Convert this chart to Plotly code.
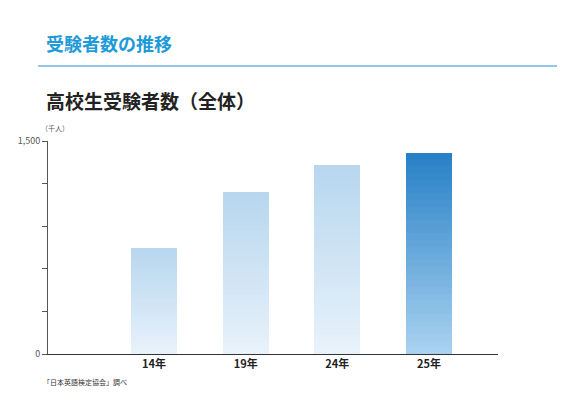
import plotly.graph_objects as go

# 高校生受験者数（千人）
years = ['14年', '19年', '24年', '25年']
examinees = [745, 1140, 1330, 1415]

# gradient colours (bottom, top) per bar
light_bottom, light_top = (232, 242, 251), (183, 214, 238)
dark_bottom, dark_top = (170, 210, 240), (38, 128, 198)
steps = 30

def mix(a, b, t):
    return 'rgb(%d,%d,%d)' % tuple(round(a[i] + (b[i] - a[i]) * t) for i in range(3))

fig = go.Figure()
for i, (yr, v) in enumerate(zip(years, examinees)):
    lo, hi = (dark_bottom, dark_top) if yr == '25年' else (light_bottom, light_top)
    for s in range(steps):
        fig.add_trace(go.Bar(
            x=[yr], y=[v / steps], base=[v * s / steps],
            marker=dict(color=mix(lo, hi, (s + 0.5) / steps), line=dict(width=0)),
            width=0.5, showlegend=False, hoverinfo='skip'))

font = 'Noto Sans CJK JP'
fig.update_layout(
    width=565, height=400, barmode='overlay', bargap=0,
    paper_bgcolor='white', plot_bgcolor='white',
    margin=dict(l=40, r=75, t=133, b=54),
    font=dict(family=font, color='#333'),
    xaxis=dict(range=[-1.157, 3.753], showgrid=False, ticks='', automargin=False,
               tickvals=years, ticktext=['<b>%s</b>' % y for y in years],
               tickfont=dict(size=11, color='#222'), showline=True,
               linecolor='#333', linewidth=1),
    yaxis=dict(range=[0, 1500], tickvals=[0, 300, 600, 900, 1200, 1500], automargin=False,
               ticktext=['0', '', '', '', '', '1,500'], ticks='outside', ticklen=5,
               tickcolor='#555', showgrid=False, showline=True, linecolor='#555',
               linewidth=1, zeroline=False, tickfont=dict(size=9, color='#555')),
    shapes=[dict(type='line', xref='paper', yref='paper', x0=-0.022, x1=1.167,
                 y0=1.352, y1=1.352, line=dict(color='#2b8ed0', width=1.2))],
    annotations=[
        dict(text='<b>受験者数の推移</b>', xref='paper', yref='paper', x=-0.01, y=1.46,
             xanchor='left', yanchor='middle', showarrow=False,
             font=dict(size=18, color='#1e9ad8', family=font)),
        dict(text='<b>高校生受験者数（全体）</b>', xref='paper', yref='paper', x=-0.01, y=1.19,
             xanchor='left', yanchor='middle', showarrow=False,
             font=dict(size=19, color='#222', family=font)),
        dict(text='（千人）', xref='paper', yref='paper', x=-0.02, y=1.03,
             xanchor='left', yanchor='bottom', showarrow=False,
             font=dict(size=7, color='#555', family=font)),
        dict(text='「日本英語検定協会」調べ', xref='paper', yref='paper', x=-0.015, y=-0.1,
             xanchor='left', yanchor='top', showarrow=False,
             font=dict(size=7, color='#333', family=font)),
    ],
)
fig.write_html('out.html')
